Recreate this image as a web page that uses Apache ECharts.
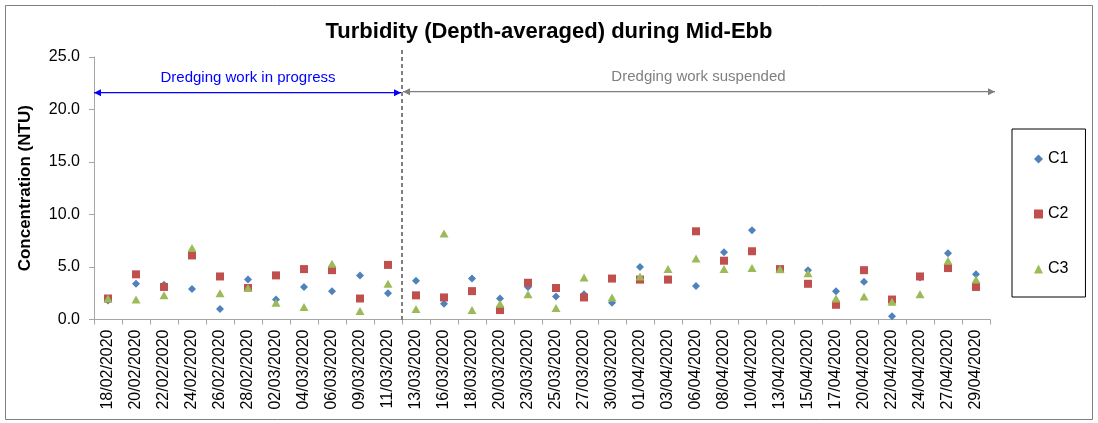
<!DOCTYPE html>
<html><head><meta charset="utf-8">
<script src="https://cdn.jsdelivr.net/npm/echarts@6/dist/echarts.min.js"></script>
<style>html,body{margin:0;padding:0;background:#fff}#c{width:1098px;height:423px}</style>
</head><body><div id="c"></div>
<script>
const categories = ['18/02/2020','20/02/2020','22/02/2020','24/02/2020','26/02/2020','28/02/2020','02/03/2020','04/03/2020','06/03/2020','09/03/2020','11/03/2020','13/03/2020','16/03/2020','18/03/2020','20/03/2020','23/03/2020','25/03/2020','27/03/2020','30/03/2020','01/04/2020','03/04/2020','06/04/2020','08/04/2020','10/04/2020','13/04/2020','15/04/2020','17/04/2020','20/04/2020','22/04/2020','24/04/2020','27/04/2020','29/04/2020'];
const c1 = [1.8, 3.4, 3.3, 2.9, 1.0, 3.8, 1.9, 3.1, 2.7, 4.2, 2.5, 3.7, 1.5, 3.9, 2.0, 3.1, 2.2, 2.4, 1.6, 5.0, 3.8, 3.2, 6.4, 8.5, 4.8, 4.7, 2.7, 3.6, 0.3, 4.0, 6.3, 4.3];
const c2 = [2.0, 4.3, 3.1, 6.1, 4.1, 3.0, 4.2, 4.8, 4.7, 2.0, 5.2, 2.3, 2.1, 2.7, 0.9, 3.5, 3.0, 2.1, 3.9, 3.8, 3.8, 8.4, 5.6, 6.5, 4.8, 3.4, 1.4, 4.7, 1.9, 4.1, 4.9, 3.1];
const c3 = [2.0, 1.9, 2.3, 6.8, 2.5, 3.0, 1.6, 1.2, 5.3, 0.8, 3.4, 1.0, 8.2, 0.9, 1.5, 2.4, 1.1, 4.0, 2.1, 4.1, 4.8, 5.8, 4.8, 4.9, 4.8, 4.4, 2.0, 2.2, 1.7, 2.4, 5.6, 3.8];
const seriesNames = ['C1', 'C2', 'C3'];
const yMin = 0, yMax = 25, yStep = 5;
const splitIndex = 11;          // first date after dredging stopped
const arrowLevel = 21.6;        // value level of the period arrows
const periodLabels = ['Dredging work in progress', 'Dredging work suspended'];

const FONT = 'Liberation Sans';
const chart = echarts.init(document.getElementById('c'));
chart.setOption({
  animation: false,
  backgroundColor: '#fff',
  textStyle: { fontFamily: FONT },
  title: {
    text: 'Turbidity (Depth-averaged) during Mid-Ebb',
    left: 'center', top: 16,
    textStyle: { fontFamily: FONT, fontSize: 22, fontWeight: 'bold', color: '#000' }
  },
  grid: { left: 94, right: 108, top: 57, bottom: 103.5, containLabel: false },
  legend: {
    orient: 'vertical', left: 1012, top: 129,
    data: [
      { name: seriesNames[0], icon: 'diamond' },
      { name: seriesNames[1], icon: 'rect' },
      { name: seriesNames[2], icon: 'triangle' }
    ],
    itemWidth: 9, itemHeight: 9, itemGap: 39,
    padding: [22, 17, 20, 22],
    borderColor: '#000', borderWidth: 1,
    textStyle: { fontFamily: FONT, fontSize: 16, color: '#000' }
  },
  xAxis: {
    type: 'category', data: categories, boundaryGap: true,
    axisLine: { lineStyle: { color: '#a6a6a6' } },
    axisTick: { show: true, length: 5, lineStyle: { color: '#a6a6a6' } },
    axisLabel: { rotate: 90, interval: 0, fontSize: 16, color: '#000', margin: 10, fontFamily: FONT }
  },
  yAxis: {
    type: 'value', min: yMin, max: yMax, interval: yStep,
    name: 'Concentration (NTU)', nameLocation: 'middle', nameGap: 60,
    nameTextStyle: { fontFamily: FONT, fontSize: 17, fontWeight: 'bold', color: '#000' },
    splitLine: { show: false },
    axisLine: { show: true, lineStyle: { color: '#a6a6a6' } },
    axisTick: { show: true, length: 5, lineStyle: { color: '#a6a6a6' } },
    axisLabel: { formatter: v => v.toFixed(1), fontSize: 16, color: '#000', margin: 14, fontFamily: FONT }
  },
  series: [
    { name: 'C1', type: 'scatter', data: c1, symbol: 'diamond', symbolSize: 8, itemStyle: { color: '#4F81BD', opacity: 1 } },
    { name: 'C2', type: 'scatter', data: c2, symbol: 'rect', symbolSize: 8, itemStyle: { color: '#C0504D', opacity: 1 } },
    { name: 'C3', type: 'scatter', data: c3, symbol: 'triangle', symbolSize: [9, 8], itemStyle: { color: '#9BBB59', opacity: 1 } }
  ]
});

// annotations, positioned through the axes
const px = i => chart.convertToPixel({ xAxisIndex: 0 }, i);
const py = v => chart.convertToPixel({ yAxisIndex: 0 }, v);
const half = (px(1) - px(0)) / 2;
const xL = px(0) - half;
const xS = (px(splitIndex - 1) + px(splitIndex)) / 2;
const xR = px(categories.length - 1) + half + 5;
const yA = py(arrowLevel);
const yT = py(yMax) - 7;
const y0 = py(yMin);
function arrowHead(x, y, dir, color) {
  return { type: 'polygon', shape: { points: [[x, y], [x - dir * 7, y - 3.5], [x - dir * 7, y + 3.5]] }, style: { fill: color }, z: 10 };
}
const blue = '#0000ff', gray = '#7f7f7f';
chart.setOption({ graphic: [
  { type: 'rect', shape: { x: 5.5, y: 5.5, width: 1087, height: 414 }, style: { fill: 'none', stroke: '#7f7f7f', lineWidth: 1 }, silent: true },
  { type: 'line', shape: { x1: xS, y1: yT, x2: xS, y2: y0 }, style: { stroke: '#000', lineWidth: 1, lineDash: [4, 3] }, z: 9 },
  { type: 'line', shape: { x1: xL, y1: yA, x2: xS - 1, y2: yA }, style: { stroke: blue, lineWidth: 1.2 }, z: 10 },
  arrowHead(xL, yA, -1, blue), arrowHead(xS - 1, yA, 1, blue),
  { type: 'line', shape: { x1: xS + 1, y1: yA - 1, x2: xR, y2: yA - 1 }, style: { stroke: gray, lineWidth: 1.2 }, z: 10 },
  arrowHead(xS + 1, yA - 1, -1, gray), arrowHead(xR, yA - 1, 1, gray),
  { type: 'text', x: (xL + xS) / 2, y: yA - 15, style: { text: periodLabels[0], fill: blue, font: '15px "' + FONT + '"', align: 'center', verticalAlign: 'middle' }, z: 10 },
  { type: 'text', x: (xS + xR) / 2, y: yA - 16, style: { text: periodLabels[1], fill: gray, font: '15px "' + FONT + '"', align: 'center', verticalAlign: 'middle' }, z: 10 }
] });
</script>
</body></html>
